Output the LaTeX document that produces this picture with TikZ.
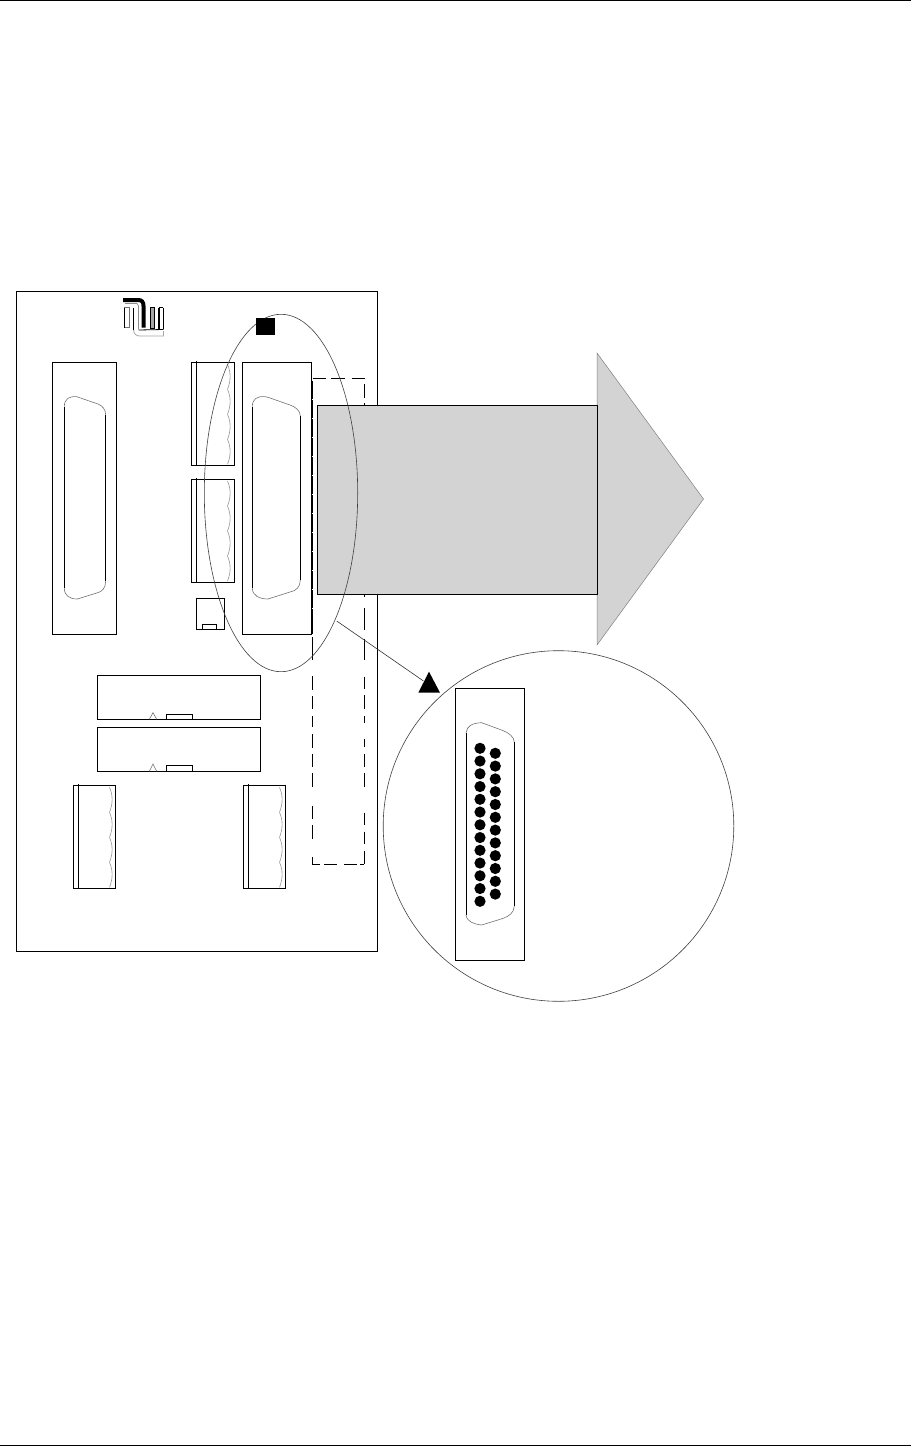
\documentclass[tikz,border=0pt]{standalone}
\usetikzlibrary{calc}
\definecolor{fillgray}{HTML}{D3D3D3}
\tikzset{
  part/.style={draw=black,line width=0.9pt,fill=none},
  thinpart/.style={draw=black!80,line width=0.6pt},
  softline/.style={draw=black!55,line width=0.6pt},
  waveline/.style={draw=black!40,line width=0.6pt},
  dashseg/.style={draw=black,line width=0.9pt},
  ring/.style={draw=black!75,line width=0.6pt},
  pin/.style={circle,fill=black,draw=none,inner sep=0pt,minimum size=11.2pt}
}
% terminal block: x left, y top, x right, y bottom, inner x, wave x
\newcommand{\terminalblock}[6]{%
  \draw[part] (#1,#2) rectangle (#3,#4);
  \draw[part] (#5,#2-1) -- (#5,#4+1);
  \foreach \k in {0,1,2,3}{
    \draw[waveline] (#6,#2+2+25*\k) .. controls (#6+3.5,#2+10+25*\k) and (#6+3.5,#2+18+25*\k) .. (#6,#2+27+25*\k);
  }
}
\begin{document}
\begin{tikzpicture}[x=1pt,y=-1pt]
\useasboundingbox (0,0) rectangle (911,1447);
\fill[white] (0,0) rectangle (911,1447);
% page rules
\draw[black,line width=1pt] (0,0.6) -- (911,0.6);
\draw[black,line width=1pt] (0,1445.6) -- (911,1445.6);
% board
\draw[part] (16.5,291.5) rectangle (377.5,951);
% logo
\draw[black,line width=4pt] (123,300) -- (138,300) .. controls (142,300) and (143.5,302) .. (143.5,306) -- (143.5,327.5);
\draw[black!45,line width=0.7pt] (125,303.5) -- (137,303.5) -- (138.5,306) -- (138.5,329);
\draw[black!55,line width=0.7pt] (124,307.5) rectangle (129.3,327.7);
\draw[black,line width=0.7pt] (124,307.5) -- (124,327.7);
\draw[black,line width=0.8pt] (133.5,308) -- (133.5,330);
\draw[black!35,line width=0.8pt] (133.5,330) .. controls (134,334) and (136,336) .. (140,336) -- (163.5,336) -- (163.5,331);
\draw[black,line width=0.8pt] (138.5,330) -- (163.5,329.5);
\fill[black!35] (150.5,307.5) rectangle (154.5,328.5);
\draw[black,line width=0.8pt] (150.5,307.5) rectangle (154.5,328.5);
\draw[black,line width=0.8pt] (163,307.5) -- (163,328.5);
\draw[black,line width=1.6pt] (159,307.5) -- (159,328.5);
\draw[black,line width=0.8pt] (158.5,307.5) -- (163,307.5);
% left connector
\draw[part] (52.3,362.3) rectangle (116.7,634.3);
\draw[softline] (64.3,406.7) .. controls (64.3,399) and (69,396) .. (76.7,396.7) -- (98,404) .. controls (103,406) and (105.7,410) .. (105.7,415);
\draw[part] (64.3,406.7) -- (64.3,588);
\draw[part] (105.7,415) -- (105.7,581);
\draw[softline] (105.7,581) .. controls (105.7,588) and (102,592) .. (96.7,593) -- (77.3,599) .. controls (70,599) and (64.3,596) .. (64.3,588);
% terminals
\terminalblock{191.3}{362.3}{234.3}{465.3}{196.3}{227.5}
\terminalblock{191.3}{479}{234.3}{582.3}{196.3}{227.5}
\terminalblock{73.3}{785.3}{115.3}{888.3}{78.3}{109.5}
\terminalblock{243.3}{785.3}{285.7}{888.3}{248.3}{279.5}
% small jack
\draw[part] (196.3,598.3) rectangle (224.3,629.3);
\draw[part] (202.3,629.3) -- (202.3,624.3) -- (216.7,624.3) -- (216.7,629.3);
% middle connector
\draw[part] (242.3,362.3) rectangle (311.7,634.3);
\draw[softline] (252.3,406.7) .. controls (252.3,399) and (257,396) .. (265,396.7) -- (268,397.3) -- (290,405) .. controls (296,407) and (300.3,411) .. (300.3,416);
\draw[part] (252.3,406.7) -- (252.3,588);
\draw[part] (300.3,416) -- (300.3,580);
\draw[softline] (300.3,580) .. controls (300.3,587) and (296,591) .. (290,592) -- (268,599) .. controls (260,599) and (252.3,596) .. (252.3,588);
% dashed outline of the plugged connector
\foreach \a/\b in {381/399,400/418,419/437,438/456,457/475,476/494,495/513,514/532,533/551,552/570,571/589,590/608,609/634}{
  \draw[black,line width=1.4pt] (312.6,\a) -- (312.6,\b);
}
\foreach \a/\b in {637/660,676/690,696/709.3,716/727.3,734.3/747.7,754.3/767.3,773.3/786.7,805.7/819.3,825.3/838.7,857.3/864.3}{
  \draw[dashseg] (312.3,\a) -- (312.3,\b);
}
\foreach \a/\b in {384/398.3,403/405,595/597,608/630,639/660,676.7/689.3,695/709.3,716/722.7,739.3/747.3,754/767.3,773.3/786.7,812.7/825.3,831.7/844.3,851/864.3}{
  \draw[dashseg] (364,\a) -- (364,\b);
}
\foreach \a/\b in {312.7/326,331/345,351.7/365}{
  \draw[dashseg] (\a,378.3) -- (\b,378.3);
}
\foreach \a/\b in {312/320,324.3/337.3,344/357.3,360/364.4}{
  \draw[dashseg] (\a,864.3) -- (\b,864.3);
}
% lower connector boxes
\draw[part] (97.3,675.3) rectangle (260.3,719.3);
\draw[softline] (149.3,719.3) -- (153,712.7) -- (156.7,719.3);
\draw[part] (166.3,719.3) -- (166.3,714.3) -- (192.7,714.3) -- (192.7,719.3);
\draw[part] (97.3,727.3) rectangle (260.3,771.3);
\draw[softline] (149.3,771.3) -- (153,764) -- (156.7,771.3);
\draw[part] (166.3,771.3) -- (166.3,765.3) -- (192.7,765.3) -- (192.7,771.3);
% big arrow
\draw[fill=fillgray,draw=black!50,line width=0.5pt] (597,353) -- (703.5,499) -- (597,645) -- cycle;
\draw[fill=fillgray,draw=black,line width=0.9pt] (317.3,405.5) rectangle (597,594.3);
% detail ellipse and marker
\draw[ring] (281,493) ellipse [x radius=76.7,y radius=178.7];
\fill[black] (256,317.7) rectangle (275,335);
% leader
\coordinate (leadstart) at (336.7,621);
\coordinate (leadend) at (423.5,681);
\draw[thinpart] (leadstart) -- (leadend);
\fill[black] (429,671.7) -- (440,692.7) -- (418.3,692.7) -- cycle;
% detail circle
\draw[ring] (558.5,826) circle [radius=175.3];
\draw[part] (455.3,688.3) rectangle (524.3,960.3);
\draw[softline] (466,732.7) .. controls (467,726) and (472,723) .. (481.7,722.7) -- (503.3,730.7) .. controls (509,733) and (514.3,737) .. (514.3,742.3);
\draw[part] (466,732.7) -- (466,915);
\draw[part] (514.3,742.3) -- (514.3,906);
\draw[softline] (514.3,906) .. controls (514,913) and (509,916) .. (503.3,918.3) -- (481.7,925) .. controls (474,924) and (467,922) .. (466,915);
\foreach \i in {0,...,12}{
  \node[pin] (pa\i) at (480,748.3+12.75*\i) {};
}
\foreach \i in {0,...,11}{
  \node[pin] (pb\i) at (495.3,753.3+12.8*\i) {};
}
\end{tikzpicture}
\end{document}
